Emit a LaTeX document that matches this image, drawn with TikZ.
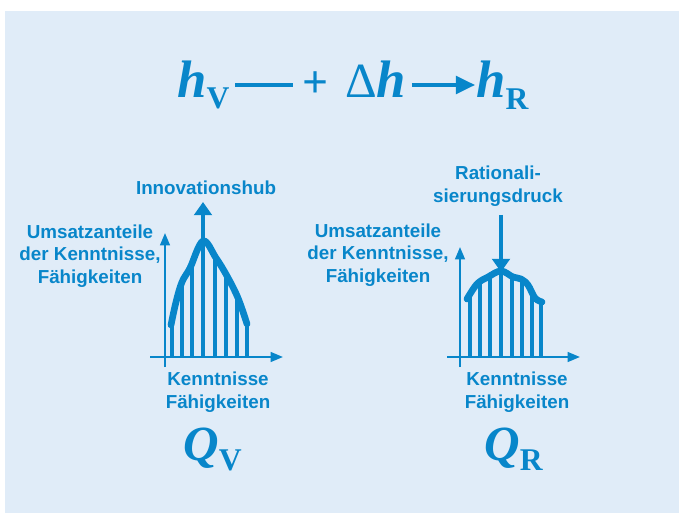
\documentclass[tikz,border=0pt]{standalone}
\usepackage{fontspec}
\setmainfont{Liberation Serif}
\setsansfont{Liberation Sans}
\usepackage{tikz}
\usetikzlibrary{
    arrows.meta,
    positioning,
    calc
}
\definecolor{Cblue}{RGB}{8, 134, 202}
\definecolor{Cbg}{RGB}{224, 236, 248}
\newcommand{\labfont}{\fontsize{10.7}{12.8}\selectfont\sffamily\bfseries}
\newcommand{\symfont}{\fontsize{30}{30}\selectfont\rmfamily\bfseries\itshape}
\newcommand{\idxfont}{\fontsize{18}{18}\selectfont\rmfamily\bfseries\upshape}
\tikzset{
    clabel/.style={
        text=Cblue, align=center, font=\labfont, inner sep=0pt
    },
    csym/.style={
        text=Cblue, font=\symfont, inner sep=0pt, anchor=base west
    },
    caxis/.style={-{Triangle[length=7pt, width=5.5pt]}, line width=1.2pt, Cblue},
    cbar/.style={line width=2.1pt, Cblue},
    ccurve/.style={line width=3.8pt, Cblue, line cap=round, line join=round},
    cflow/.style={-{Triangle[length=7.5pt, width=10pt]}, line width=2.1pt, Cblue},
    cform/.style={line width=2.4pt, Cblue},
}

\begin{document}
\begin{tikzpicture}[x=0.02cm, y=-0.02cm]

    % ── Hintergrund ──────────────────────────────────────
    \useasboundingbox (0,0) rectangle (679,513);
    \fill [Cbg] (5,11) rectangle (679,513);

    % ── Formel oben ──────────────────────────────────────
    \node [csym] (hV) at (177,98) {h\raisebox{-5.7pt}{\idxfont V}};
    \node [text=Cblue, inner sep=0pt, font=\fontsize{26}{26}\selectfont\rmfamily\bfseries]
        (plus) at (316,85) {+};
    \node [csym] (dh) at (345,98) {{\fontsize{28}{28}\selectfont\upshape\mdseries Δ}h};
    \node [csym] (hR) at (476,98) {h\raisebox{-6.5pt}{\idxfont R}};

    \draw [cform, shorten <=3pt, shorten >=5.5pt] (hV.east |- plus.center) -- (plus.west);
    \draw [cform, -{Triangle[length=11pt, width=10pt]}, shorten <=3pt, shorten >=0.5pt]
        (dh.east |- plus.center) -- (hR.west |- plus.center);

    % ── linkes Diagramm ──────────────────────────────────
    \coordinate (ovy) at (165,367);
    \coordinate (ovx) at (150,357);
    \draw [caxis] (ovy) -- (165,233) coordinate (vytip);
    \draw [caxis] (ovx) -- (283,357) coordinate (vxtip);

    \foreach \x/\top in {172/320, 182/284, 192/264, 215/258, 226/276, 237/298, 247/324}
        \draw [cbar] (\x,357) -- (\x,\top);

    \draw [ccurve] plot [smooth, tension=0.6] coordinates {
        (171,325) (176,302) (182,282) (190,268) (203,241)
        (216,258) (227,276) (238,298) (247,324)};

    \node [clabel] (innov) at (206,188) {Innovationshub};
    \coordinate (vpeak) at (203,202);
    \draw [cflow] (203,357) -- (vpeak);

    \node [clabel] (vyl) at (90,256) {Umsatzanteile\\der Kenntnisse,\\Fähigkeiten};
    \node [clabel] (vxl) at (218,392) {Kenntnisse\\Fähigkeiten};

    \node [text=Cblue, inner sep=0pt, font=\fontsize{28}{28}\selectfont\rmfamily\bfseries\itshape,
        anchor=base west] (QV) at (183,460) {Q\raisebox{-6pt}{\idxfont V}};

    % ── rechtes Diagramm ─────────────────────────────────
    \coordinate (ory) at (460,367);
    \coordinate (orx) at (447,357);
    \draw [caxis] (ory) -- (460,247) coordinate (rytip);
    \draw [caxis] (orx) -- (580,357) coordinate (rxtip);

    \foreach \x/\top in {470/294, 480/282, 490/276, 501/271, 512/276, 522/280, 532/292, 541/302}
        \draw [cbar] (\x,357) -- (\x,\top);

    \draw [ccurve] plot [smooth, tension=0.6] coordinates {
        (467,299) (477,284) (488,277) (501,271) (513,277)
        (521,279) (528,285) (535,298) (542,302)};

    \node [clabel] (ratio) at (498,186) {Rationali-\\sierungsdruck};
    \coordinate (rtop) at (501,215);
    \draw [cflow] (rtop) -- (501,272);

    \node [clabel] (ryl) at (378,255) {Umsatzanteile\\der Kenntnisse,\\Fähigkeiten};
    \node [clabel] (rxl) at (517,392) {Kenntnisse\\Fähigkeiten};

    \node [text=Cblue, inner sep=0pt, font=\fontsize{28}{28}\selectfont\rmfamily\bfseries\itshape,
        anchor=base west] (QR) at (484,460) {Q\raisebox{-6pt}{\idxfont R}};

\end{tikzpicture}
\end{document}
